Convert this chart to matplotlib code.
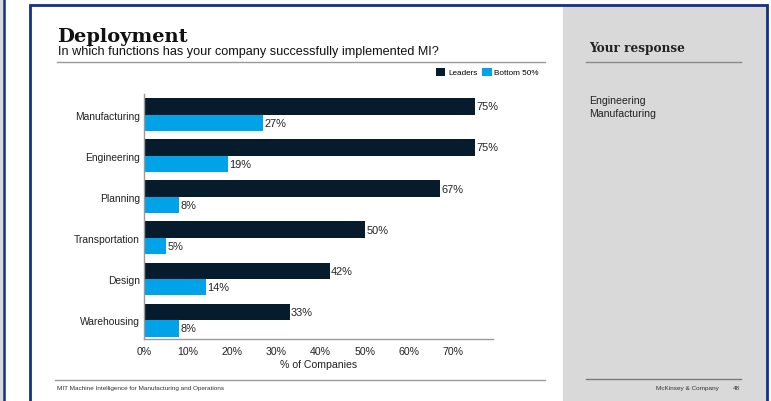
import matplotlib
matplotlib.use("Agg")
import matplotlib.pyplot as plt
from matplotlib.patches import Rectangle
from matplotlib.lines import Line2D
import numpy as np

categories = ["Manufacturing", "Engineering", "Planning", "Transportation", "Design", "Warehousing"]
leaders = [75, 75, 67, 50, 42, 33]
bottom50 = [27, 19, 8, 5, 14, 8]
xticks = [0, 10, 20, 30, 40, 50, 60, 70]
responses = ["Engineering", "Manufacturing"]

LEADER_C = "#061C2C"
BOTTOM_C = "#00A3E8"
NAVY = "#13308A"
PANEL = "#D9D9D9"
SANS = "Liberation Sans"
SERIF = "DejaVu Serif"

W, H = 771, 402
fig = plt.figure(figsize=(W / 100, H / 100), dpi=100)
fig.patch.set_facecolor("white")


def fx(px):
    return px / W


def fy(py):
    return 1 - py / H


# slide frame and side strips
fig.add_artist(Rectangle((0, 0), fx(3.5), 1, transform=fig.transFigure, color=PANEL, zorder=0))
fig.add_artist(Line2D([fx(4.2), fx(4.2)], [0, 1], transform=fig.transFigure, color=NAVY, lw=1.8))
fig.add_artist(Rectangle((fx(563), 0), fx(766 - 563), fy(6), transform=fig.transFigure,
                         color=PANEL, zorder=0))
fig.add_artist(Line2D([fx(29.5), fx(29.5), fx(766.5), fx(766.5)], [0, fy(5.5), fy(5.5), 0],
                      transform=fig.transFigure, color=NAVY, lw=2.0, solid_joinstyle="miter"))

# headings
fig.text(fx(57), fy(42.5), "Deployment", family=SERIF, weight="bold", fontsize=14,
         va="baseline", ha="left", color="#111111")
fig.text(fx(58), fy(52), "In which functions has your company successfully implemented MI?",
         family=SANS, fontsize=9.1, va="center", ha="left", color="#111111")
fig.add_artist(Line2D([fx(57), fx(545)], [fy(63), fy(63)], transform=fig.transFigure,
                      color="#9A9A9A", lw=1.0))

fig.text(fx(589), fy(52), "Your response", family=SERIF, weight="bold", fontsize=8.7,
         va="baseline", ha="left", color="#222222")
fig.add_artist(Line2D([fx(586), fx(741)], [fy(63), fy(63)], transform=fig.transFigure,
                      color="#8A8A8A", lw=1.0))
for i, r in enumerate(responses):
    fig.text(fx(589), fy(101 + 13 * i), r, family=SANS, fontsize=7.6, va="center", ha="left",
             color="#222222")

# footers
fig.add_artist(Line2D([fx(55), fx(545)], [fy(381), fy(381)], transform=fig.transFigure,
                      color="#9A9A9A", lw=1.0))
fig.text(fx(57), fy(388.5), "MIT Machine Intelligence for Manufacturing and Operations",
         family=SANS, fontsize=4.6, va="center", ha="left", color="#333333")
fig.add_artist(Line2D([fx(586), fx(741)], [fy(380), fy(380)], transform=fig.transFigure,
                      color="#7A7A7A", lw=1.0))
fig.text(fx(719), fy(388.5), "McKinsey & Company", family=SANS, fontsize=4.6, va="center",
         ha="right", color="#333333")
fig.text(fx(740), fy(388.5), "48", family=SANS, fontsize=4.6, va="center", ha="right",
         color="#333333")

# chart
ax = fig.add_axes([fx(144), fy(340), fx(493 - 144), fy(95) - fy(340)])
y = np.arange(len(categories))
h = 0.4
ax.barh(y - h / 2, leaders, height=h, color=LEADER_C, label="Leaders")
ax.barh(y + h / 2, bottom50, height=h, color=BOTTOM_C, label="Bottom 50%")
for yi, v in zip(y, leaders):
    ax.text(v + 0.3, yi - h / 2, f"{v}%", family=SANS, fontsize=7.9, va="center", ha="left",
            color="#222222")
for yi, v in zip(y, bottom50):
    ax.text(v + 0.3, yi + h / 2, f"{v}%", family=SANS, fontsize=7.9, va="center", ha="left",
            color="#222222")

ax.set_xlim(0, 79)
ax.set_ylim(5.46, -0.5)
ax.set_yticks(y)
ax.set_yticklabels(categories, family=SANS, fontsize=7.4, color="#222222")
ax.set_xticks(xticks)
ax.set_xticklabels([f"{t}%" for t in xticks], family=SANS, fontsize=7.6, color="#222222")
ax.tick_params(length=0, pad=3)
ax.tick_params(axis="x", pad=5)
ax.set_xlabel("% of Companies", family=SANS, fontsize=7.6, color="#222222", labelpad=2)
for s in ["top", "right"]:
    ax.spines[s].set_visible(False)
for s in ["left", "bottom"]:
    ax.spines[s].set_color("#9A9A9A")
    ax.spines[s].set_linewidth(1.0)

leg = fig.legend(loc="center right", bbox_to_anchor=(fx(543), fy(73)), ncol=2, frameon=False,
                 prop={"family": SANS, "size": 5.9}, handlelength=1.15, handleheight=1.15,
                 handletextpad=0.35, columnspacing=0.6, borderpad=0)

fig.savefig("out.png", dpi=100)
